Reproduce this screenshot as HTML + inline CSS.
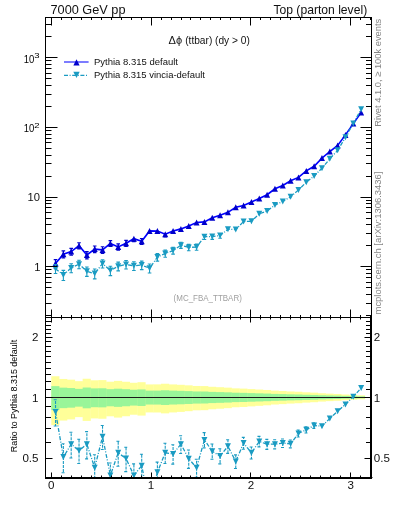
<!DOCTYPE html>
<html><head><meta charset="utf-8"><style>
html,body{margin:0;padding:0;background:#fff;width:393px;height:512px;overflow:hidden}
svg{display:block;will-change:transform}
</style></head><body>
<svg width="393" height="512" viewBox="0 0 393 512">
<rect width="393" height="512" fill="#fff"/>
<defs><clipPath id="cm"><rect x="45" y="17" width="327" height="301"/></clipPath><clipPath id="cr"><rect x="45" y="318" width="327" height="160"/></clipPath></defs>
<g clip-path="url(#cr)" fill="#ffff99"><rect x="51.30" y="376.24" width="8.14" height="48.90"/><rect x="59.14" y="378.97" width="8.14" height="41.58"/><rect x="66.97" y="379.67" width="8.14" height="39.77"/><rect x="74.81" y="381.16" width="8.14" height="35.96"/><rect x="82.65" y="378.75" width="8.14" height="42.15"/><rect x="90.48" y="380.31" width="8.14" height="38.10"/><rect x="98.32" y="380.11" width="8.14" height="38.63"/><rect x="106.16" y="381.71" width="8.14" height="34.58"/><rect x="113.99" y="380.87" width="8.14" height="36.70"/><rect x="121.83" y="381.76" width="8.14" height="34.47"/><rect x="129.67" y="382.79" width="8.14" height="31.94"/><rect x="137.50" y="382.20" width="8.14" height="33.38"/><rect x="145.34" y="384.42" width="8.14" height="28.01"/><rect x="153.18" y="384.38" width="8.14" height="28.10"/><rect x="161.01" y="383.75" width="8.14" height="29.61"/><rect x="168.85" y="384.42" width="8.14" height="28.01"/><rect x="176.69" y="384.81" width="8.14" height="27.08"/><rect x="184.52" y="385.33" width="8.14" height="25.84"/><rect x="192.36" y="385.98" width="8.14" height="24.33"/><rect x="200.20" y="386.09" width="8.14" height="24.09"/><rect x="208.03" y="386.78" width="8.14" height="22.49"/><rect x="215.87" y="387.20" width="8.14" height="21.53"/><rect x="223.71" y="387.64" width="8.14" height="20.52"/><rect x="231.54" y="388.37" width="8.14" height="18.88"/><rect x="239.38" y="388.61" width="8.14" height="18.35"/><rect x="247.22" y="389.09" width="8.14" height="17.29"/><rect x="255.05" y="389.53" width="8.14" height="16.31"/><rect x="262.89" y="389.98" width="8.14" height="15.31"/><rect x="270.73" y="390.63" width="8.14" height="13.88"/><rect x="278.56" y="390.98" width="8.14" height="13.14"/><rect x="286.40" y="391.44" width="8.14" height="12.14"/><rect x="294.24" y="391.74" width="8.14" height="11.49"/><rect x="302.07" y="392.29" width="8.14" height="10.32"/><rect x="309.91" y="392.65" width="8.14" height="9.56"/><rect x="317.75" y="393.23" width="8.14" height="8.35"/><rect x="325.58" y="393.64" width="8.14" height="7.49"/><rect x="333.42" y="393.98" width="8.14" height="6.78"/><rect x="341.26" y="394.50" width="8.14" height="5.69"/><rect x="349.09" y="394.97" width="8.14" height="4.72"/><rect x="356.93" y="395.35" width="8.14" height="3.94"/></g>
<g clip-path="url(#cr)" fill="#99f599"><rect x="51.30" y="386.13" width="8.14" height="23.98"/><rect x="59.14" y="387.65" width="8.14" height="20.50"/><rect x="66.97" y="388.04" width="8.14" height="19.63"/><rect x="74.81" y="388.86" width="8.14" height="17.79"/><rect x="82.65" y="387.53" width="8.14" height="20.77"/><rect x="90.48" y="388.39" width="8.14" height="18.83"/><rect x="98.32" y="388.28" width="8.14" height="19.08"/><rect x="106.16" y="389.16" width="8.14" height="17.12"/><rect x="113.99" y="388.70" width="8.14" height="18.15"/><rect x="121.83" y="389.18" width="8.14" height="17.07"/><rect x="129.67" y="389.74" width="8.14" height="15.84"/><rect x="137.50" y="389.42" width="8.14" height="16.54"/><rect x="145.34" y="390.62" width="8.14" height="13.91"/><rect x="153.18" y="390.60" width="8.14" height="13.96"/><rect x="161.01" y="390.26" width="8.14" height="14.70"/><rect x="168.85" y="390.62" width="8.14" height="13.91"/><rect x="176.69" y="390.83" width="8.14" height="13.46"/><rect x="184.52" y="391.11" width="8.14" height="12.85"/><rect x="192.36" y="391.46" width="8.14" height="12.11"/><rect x="200.20" y="391.51" width="8.14" height="11.99"/><rect x="208.03" y="391.88" width="8.14" height="11.20"/><rect x="215.87" y="392.10" width="8.14" height="10.73"/><rect x="223.71" y="392.34" width="8.14" height="10.22"/><rect x="231.54" y="392.72" width="8.14" height="9.41"/><rect x="239.38" y="392.84" width="8.14" height="9.15"/><rect x="247.22" y="393.10" width="8.14" height="8.62"/><rect x="255.05" y="393.33" width="8.14" height="8.14"/><rect x="262.89" y="393.56" width="8.14" height="7.64"/><rect x="270.73" y="393.90" width="8.14" height="6.93"/><rect x="278.56" y="394.08" width="8.14" height="6.56"/><rect x="286.40" y="394.32" width="8.14" height="6.06"/><rect x="294.24" y="394.48" width="8.14" height="5.74"/><rect x="302.07" y="394.76" width="8.14" height="5.16"/><rect x="309.91" y="394.94" width="8.14" height="4.78"/><rect x="317.75" y="395.24" width="8.14" height="4.17"/><rect x="325.58" y="395.45" width="8.14" height="3.74"/><rect x="333.42" y="395.62" width="8.14" height="3.39"/><rect x="341.26" y="395.89" width="8.14" height="2.84"/><rect x="349.09" y="396.13" width="8.14" height="2.36"/><rect x="356.93" y="396.32" width="8.14" height="1.97"/></g>
<line x1="45" y1="397.5" x2="371" y2="397.5" stroke="#1a1a1a" stroke-width="1.2"/>
<g clip-path="url(#cm)"><polyline points="55.52,263.60 63.36,254.20 71.19,251.60 79.03,245.70 86.87,255.00 94.70,249.10 102.54,249.90 110.38,243.40 118.21,246.90 126.05,243.20 133.89,238.70 141.72,241.30 149.56,230.90 157.40,231.10 165.23,234.20 173.07,230.90 180.91,228.90 188.74,226.10 196.58,222.50 204.42,221.90 212.25,217.80 220.09,215.20 227.93,212.30 235.76,207.30 243.60,205.60 251.44,202.00 259.27,198.50 267.11,194.70 274.95,188.80 282.78,185.50 290.62,180.70 298.46,177.40 306.29,170.90 314.13,166.30 321.97,158.10 329.80,151.50 337.64,145.50 345.48,134.90 353.31,123.60 361.15,112.60" fill="none" stroke="#0000ff" stroke-width="1.6"/><path d="M55.52,263.60V259.72M53.72,259.72H57.32M55.52,263.60V268.05M53.72,268.05H57.32M63.36,254.20V250.85M61.56,250.85H65.16M63.36,254.20V257.97M61.56,257.97H65.16M71.19,251.60V248.38M69.39,248.38H72.99M71.19,251.60V255.20M69.39,255.20H72.99M79.03,245.70V242.77M77.23,242.77H80.83M79.03,245.70V248.95M77.23,248.95H80.83M86.87,255.00V251.61M85.07,251.61H88.67M86.87,255.00V258.82M85.07,258.82H88.67M94.70,249.10V246.01M92.90,246.01H96.50M94.70,249.10V252.55M92.90,252.55H96.50M102.54,249.90V246.77M100.74,246.77H104.34M102.54,249.90V253.40M100.74,253.40H104.34M110.38,243.40V240.57M108.58,240.57H112.18M110.38,243.40V246.52M108.58,246.52H112.18M118.21,246.90V243.91M116.41,243.91H120.01M118.21,246.90V250.22M116.41,250.22H120.01M126.05,243.20V240.38M124.25,240.38H127.85M126.05,243.20V246.31M124.25,246.31H127.85M133.89,238.70V241.58M132.09,241.58H135.69M141.72,241.30V238.56M139.92,238.56H143.52M141.72,241.30V244.31M139.92,244.31H143.52M165.23,234.20V236.86M163.43,236.86H167.03" stroke="#0000cc" stroke-width="1.2" fill="none"/><path d="M52.52,266.60L58.52,266.60L55.52,260.60ZM60.36,257.20L66.36,257.20L63.36,251.20ZM68.19,254.60L74.19,254.60L71.19,248.60ZM76.03,248.70L82.03,248.70L79.03,242.70ZM83.87,258.00L89.87,258.00L86.87,252.00ZM91.70,252.10L97.70,252.10L94.70,246.10ZM99.54,252.90L105.54,252.90L102.54,246.90ZM107.38,246.40L113.38,246.40L110.38,240.40ZM115.21,249.90L121.21,249.90L118.21,243.90ZM123.05,246.20L129.05,246.20L126.05,240.20ZM130.89,241.70L136.89,241.70L133.89,235.70ZM138.72,244.30L144.72,244.30L141.72,238.30ZM146.56,233.90L152.56,233.90L149.56,227.90ZM154.40,234.10L160.40,234.10L157.40,228.10ZM162.23,237.20L168.23,237.20L165.23,231.20ZM170.07,233.90L176.07,233.90L173.07,227.90ZM177.91,231.90L183.91,231.90L180.91,225.90ZM185.74,229.10L191.74,229.10L188.74,223.10ZM193.58,225.50L199.58,225.50L196.58,219.50ZM201.42,224.90L207.42,224.90L204.42,218.90ZM209.25,220.80L215.25,220.80L212.25,214.80ZM217.09,218.20L223.09,218.20L220.09,212.20ZM224.93,215.30L230.93,215.30L227.93,209.30ZM232.76,210.30L238.76,210.30L235.76,204.30ZM240.60,208.60L246.60,208.60L243.60,202.60ZM248.44,205.00L254.44,205.00L251.44,199.00ZM256.27,201.50L262.27,201.50L259.27,195.50ZM264.11,197.70L270.11,197.70L267.11,191.70ZM271.95,191.80L277.95,191.80L274.95,185.80ZM279.78,188.50L285.78,188.50L282.78,182.50ZM287.62,183.70L293.62,183.70L290.62,177.70ZM295.46,180.40L301.46,180.40L298.46,174.40ZM303.29,173.90L309.29,173.90L306.29,167.90ZM311.13,169.30L317.13,169.30L314.13,163.30ZM318.97,161.10L324.97,161.10L321.97,155.10ZM326.80,154.50L332.80,154.50L329.80,148.50ZM334.64,148.50L340.64,148.50L337.64,142.50ZM342.48,137.90L348.48,137.90L345.48,131.90ZM350.31,126.60L356.31,126.60L353.31,120.60ZM358.15,115.60L364.15,115.60L361.15,109.60Z" fill="#0000cc"/></g>
<g clip-path="url(#cm)"><polyline points="55.52,268.67 63.36,274.98 71.19,267.90 79.03,264.22 86.87,271.30 94.70,273.60 102.54,263.59 110.38,270.54 118.21,266.18 126.05,264.50 133.89,265.84 141.72,265.07 149.56,268.20 157.40,257.12 165.23,253.48 173.07,250.57 180.91,245.20 188.74,247.43 196.58,247.00 204.42,236.70 212.25,236.56 220.09,235.60 227.93,229.33 235.76,229.57 243.60,221.51 251.44,221.28 259.27,213.86 267.11,211.00 274.95,205.10 282.78,201.41 290.62,196.86 298.46,189.94 306.29,182.19 314.13,176.10 321.97,168.14 329.80,158.87 337.64,150.33 345.48,137.37 353.31,123.39 361.15,109.37" fill="none" stroke="#1a9bc2" stroke-width="1.3" stroke-dasharray="4,1.6,1,1.6"/><path d="M55.52,268.67V264.48M53.72,264.48H57.32M55.52,268.67V273.55M53.72,273.55H57.32M63.36,274.98V270.35M61.56,270.35H65.16M63.36,274.98V280.44M61.56,280.44H65.16M71.19,267.90V263.75M69.39,263.75H72.99M71.19,267.90V272.70M69.39,272.70H72.99M79.03,264.22V260.30M77.23,260.30H80.83M79.03,264.22V268.72M77.23,268.72H80.83M86.87,271.30V266.93M85.07,266.93H88.67M86.87,271.30V276.40M85.07,276.40H88.67M94.70,273.60V269.07M92.90,269.07H96.50M94.70,273.60V278.92M92.90,278.92H96.50M102.54,263.59V259.71M100.74,259.71H104.34M102.54,263.59V268.04M100.74,268.04H104.34M110.38,270.54V266.22M108.58,266.22H112.18M110.38,270.54V275.58M108.58,275.58H112.18M118.21,266.18V262.15M116.41,262.15H120.01M118.21,266.18V270.85M116.41,270.85H120.01M126.05,264.50V260.56M124.25,260.56H127.85M126.05,264.50V269.02M124.25,269.02H127.85M133.89,265.84V261.82M132.09,261.82H135.69M133.89,265.84V270.47M132.09,270.47H135.69M141.72,265.07V261.10M139.92,261.10H143.52M141.72,265.07V269.64M139.92,269.64H143.52M149.56,268.20V264.03M147.76,264.03H151.36M149.56,268.20V273.03M147.76,273.03H151.36M157.40,257.12V253.62M155.60,253.62H159.20M157.40,257.12V261.09M155.60,261.09H159.20M165.23,253.48V250.17M163.43,250.17H167.03M165.23,253.48V257.21M163.43,257.21H167.03M173.07,250.57V247.40M171.27,247.40H174.87M173.07,250.57V254.10M171.27,254.10H174.87M180.91,245.20V242.29M179.11,242.29H182.71M180.91,245.20V248.42M179.11,248.42H182.71M188.74,247.43V244.42M186.94,244.42H190.54M188.74,247.43V250.78M186.94,250.78H190.54M196.58,247.00V244.00M194.78,244.00H198.38M196.58,247.00V250.32M194.78,250.32H198.38M204.42,236.70V239.48M202.62,239.48H206.22M212.25,236.56V239.33M210.45,239.33H214.05M220.09,235.60V238.32M218.29,238.32H221.89" stroke="#1a9bc2" stroke-width="1.1" fill="none"/><path d="M52.52,265.67L58.52,265.67L55.52,271.67ZM60.36,271.98L66.36,271.98L63.36,277.98ZM68.19,264.90L74.19,264.90L71.19,270.90ZM76.03,261.22L82.03,261.22L79.03,267.22ZM83.87,268.30L89.87,268.30L86.87,274.30ZM91.70,270.60L97.70,270.60L94.70,276.60ZM99.54,260.59L105.54,260.59L102.54,266.59ZM107.38,267.54L113.38,267.54L110.38,273.54ZM115.21,263.18L121.21,263.18L118.21,269.18ZM123.05,261.50L129.05,261.50L126.05,267.50ZM130.89,262.84L136.89,262.84L133.89,268.84ZM138.72,262.07L144.72,262.07L141.72,268.07ZM146.56,265.20L152.56,265.20L149.56,271.20ZM154.40,254.12L160.40,254.12L157.40,260.12ZM162.23,250.48L168.23,250.48L165.23,256.48ZM170.07,247.57L176.07,247.57L173.07,253.57ZM177.91,242.20L183.91,242.20L180.91,248.20ZM185.74,244.43L191.74,244.43L188.74,250.43ZM193.58,244.00L199.58,244.00L196.58,250.00ZM201.42,233.70L207.42,233.70L204.42,239.70ZM209.25,233.56L215.25,233.56L212.25,239.56ZM217.09,232.60L223.09,232.60L220.09,238.60ZM224.93,226.33L230.93,226.33L227.93,232.33ZM232.76,226.57L238.76,226.57L235.76,232.57ZM240.60,218.51L246.60,218.51L243.60,224.51ZM248.44,218.28L254.44,218.28L251.44,224.28ZM256.27,210.86L262.27,210.86L259.27,216.86ZM264.11,208.00L270.11,208.00L267.11,214.00ZM271.95,202.10L277.95,202.10L274.95,208.10ZM279.78,198.41L285.78,198.41L282.78,204.41ZM287.62,193.86L293.62,193.86L290.62,199.86ZM295.46,186.94L301.46,186.94L298.46,192.94ZM303.29,179.19L309.29,179.19L306.29,185.19ZM311.13,173.10L317.13,173.10L314.13,179.10ZM318.97,165.14L324.97,165.14L321.97,171.14ZM326.80,155.87L332.80,155.87L329.80,161.87ZM334.64,147.33L340.64,147.33L337.64,153.33ZM342.48,134.37L348.48,134.37L345.48,140.37ZM350.31,120.39L356.31,120.39L353.31,126.39ZM358.15,106.37L364.15,106.37L361.15,112.37Z" fill="#1a9bc2"/></g>
<g clip-path="url(#cr)"><polyline points="55.52,411.90 63.36,457.10 71.19,444.20 79.03,450.60 86.87,444.20 94.70,467.80 102.54,436.70 110.38,475.40 118.21,452.80 126.05,458.60 133.89,475.40 141.72,465.70 149.56,504.65 157.40,472.20 165.23,452.80 173.07,453.90 180.91,444.20 188.74,458.70 196.58,467.80 204.42,439.90 212.25,451.30 220.09,456.00 227.93,446.30 235.76,461.40 243.60,443.10 251.44,452.80 259.27,441.50 267.11,444.20 274.95,444.20 282.78,443.10 290.62,443.80 298.46,433.40 306.29,429.80 314.13,425.50 321.97,426.20 329.80,418.50 337.64,411.20 345.48,404.40 353.31,396.70 361.15,388.00" fill="none" stroke="#1a9bc2" stroke-width="1.3" stroke-dasharray="4,1.6,1,1.6"/><path d="M55.52,411.90V399.82M53.72,399.82H57.32M55.52,411.90V425.93M53.72,425.93H57.32M63.36,457.10V443.79M61.56,443.79H65.16M63.36,457.10V472.81M61.56,472.81H65.16M71.19,444.20V432.27M69.39,432.27H72.99M71.19,444.20V458.03M69.39,458.03H72.99M79.03,450.60V439.32M77.23,439.32H80.83M79.03,450.60V463.55M77.23,463.55H80.83M86.87,444.20V431.62M85.07,431.62H88.67M86.87,444.20V458.90M85.07,458.90H88.67M94.70,467.80V454.77M92.90,454.77H96.50M94.70,467.80V483.13M92.90,483.13H96.50M102.54,436.70V425.53M100.74,425.53H104.34M102.54,436.70V449.51M100.74,449.51H104.34M110.38,475.40V462.97M108.58,462.97H112.18M110.38,475.40V489.90M108.58,489.90H112.18M118.21,452.80V441.18M116.41,441.18H120.01M118.21,452.80V466.22M116.41,466.22H120.01M126.05,458.60V447.28M124.25,447.28H127.85M126.05,458.60V471.62M124.25,471.62H127.85M133.89,475.40V463.84M132.09,463.84H135.69M133.89,475.40V488.73M132.09,488.73H135.69M141.72,465.70V454.28M139.92,454.28H143.52M141.72,465.70V478.85M139.92,478.85H143.52M149.56,504.65V492.66M147.76,492.66H151.36M149.56,504.65V518.56M147.76,518.56H151.36M157.40,472.20V462.10M155.60,462.10H159.20M157.40,472.20V483.62M155.60,483.62H159.20M165.23,452.80V443.26M163.43,443.26H167.03M165.23,452.80V463.51M163.43,463.51H167.03M173.07,453.90V444.79M171.27,444.79H174.87M173.07,453.90V464.08M171.27,464.08H174.87M180.91,444.20V435.82M179.11,435.82H182.71M180.91,444.20V453.47M179.11,453.47H182.71M188.74,458.70V450.02M186.94,450.02H190.54M188.74,458.70V468.34M186.94,468.34H190.54M196.58,467.80V459.18M194.78,459.18H198.38M196.58,467.80V477.36M194.78,477.36H198.38M204.42,439.90V432.58M202.62,432.58H206.22M204.42,439.90V447.90M202.62,447.90H206.22M212.25,451.30V443.99M210.45,443.99H214.05M212.25,451.30V459.28M210.45,459.28H214.05M220.09,456.00V448.80M218.29,448.80H221.89M220.09,456.00V463.85M218.29,463.85H221.89M227.93,446.30V439.79M226.13,439.79H229.73M227.93,446.30V453.34M226.13,453.34H229.73M235.76,461.40V454.86M233.96,454.86H237.56M235.76,461.40V468.47M233.96,468.47H237.56M243.60,443.10V437.35M241.80,437.35H245.40M243.60,443.10V449.26M241.80,449.26H245.40M251.44,452.80V447.07M249.64,447.07H253.24M251.44,452.80V458.93M249.64,458.93H253.24M259.27,441.50V436.41M257.47,436.41H261.07M259.27,441.50V446.90M257.47,446.90H261.07M267.11,444.20V439.34M265.31,439.34H268.91M267.11,444.20V449.35M265.31,449.35H268.91M274.95,444.20V439.78M273.15,439.78H276.75M274.95,444.20V448.86M273.15,448.86H276.75M282.78,443.10V438.94M280.98,438.94H284.58M282.78,443.10V447.47M280.98,447.47H284.58M290.62,443.80V439.93M288.82,439.93H292.42M290.62,443.80V447.85M288.82,447.85H292.42M298.46,433.40V429.94M296.66,429.94H300.26M298.46,433.40V437.00M296.66,437.00H300.26M306.29,429.80V426.75M304.49,426.75H308.09M306.29,429.80V432.96M304.49,432.96H308.09M314.13,425.50V422.74M312.33,422.74H315.93M314.13,425.50V428.35M312.33,428.35H315.93" stroke="#1a9bc2" stroke-width="1.1" fill="none" stroke-dasharray="3,1"/><path d="M52.52,408.90L58.52,408.90L55.52,414.90ZM60.36,454.10L66.36,454.10L63.36,460.10ZM68.19,441.20L74.19,441.20L71.19,447.20ZM76.03,447.60L82.03,447.60L79.03,453.60ZM83.87,441.20L89.87,441.20L86.87,447.20ZM91.70,464.80L97.70,464.80L94.70,470.80ZM99.54,433.70L105.54,433.70L102.54,439.70ZM107.38,472.40L113.38,472.40L110.38,478.40ZM115.21,449.80L121.21,449.80L118.21,455.80ZM123.05,455.60L129.05,455.60L126.05,461.60ZM130.89,472.40L136.89,472.40L133.89,478.40ZM138.72,462.70L144.72,462.70L141.72,468.70ZM146.56,501.65L152.56,501.65L149.56,507.65ZM154.40,469.20L160.40,469.20L157.40,475.20ZM162.23,449.80L168.23,449.80L165.23,455.80ZM170.07,450.90L176.07,450.90L173.07,456.90ZM177.91,441.20L183.91,441.20L180.91,447.20ZM185.74,455.70L191.74,455.70L188.74,461.70ZM193.58,464.80L199.58,464.80L196.58,470.80ZM201.42,436.90L207.42,436.90L204.42,442.90ZM209.25,448.30L215.25,448.30L212.25,454.30ZM217.09,453.00L223.09,453.00L220.09,459.00ZM224.93,443.30L230.93,443.30L227.93,449.30ZM232.76,458.40L238.76,458.40L235.76,464.40ZM240.60,440.10L246.60,440.10L243.60,446.10ZM248.44,449.80L254.44,449.80L251.44,455.80ZM256.27,438.50L262.27,438.50L259.27,444.50ZM264.11,441.20L270.11,441.20L267.11,447.20ZM271.95,441.20L277.95,441.20L274.95,447.20ZM279.78,440.10L285.78,440.10L282.78,446.10ZM287.62,440.80L293.62,440.80L290.62,446.80ZM295.46,430.40L301.46,430.40L298.46,436.40ZM303.29,426.80L309.29,426.80L306.29,432.80ZM311.13,422.50L317.13,422.50L314.13,428.50ZM318.97,423.20L324.97,423.20L321.97,429.20ZM326.80,415.50L332.80,415.50L329.80,421.50ZM334.64,408.20L340.64,408.20L337.64,414.20ZM342.48,401.40L348.48,401.40L345.48,407.40ZM350.31,393.70L356.31,393.70L353.31,399.70ZM358.15,385.00L364.15,385.00L361.15,391.00Z" fill="#1a9bc2"/></g>
<rect x="45.5" y="17.5" width="326.0" height="300.0" fill="none" stroke="#000" stroke-width="1"/>
<path d="M45,317.5H371.5M45.5,317V478M370,477.5H372.5" stroke="#000" stroke-width="1" fill="none"/>
<path d="M45,478H372M371,317V479" stroke="#000" stroke-width="2" fill="none"/>
<path d="M51.5,17.5v8M51.5,317.5v-8M51.5,317.5v5M51.5,477.5v-5M61.5,17.5v2.5M61.5,317.5v-2.5M61.5,317.5v2M61.5,477.5v-2M71.5,17.5v2.5M71.5,317.5v-2.5M71.5,317.5v2M71.5,477.5v-2M81.5,17.5v2.5M81.5,317.5v-2.5M81.5,317.5v2M81.5,477.5v-2M91.5,17.5v2.5M91.5,317.5v-2.5M91.5,317.5v2M91.5,477.5v-2M101.5,17.5v2.5M101.5,317.5v-2.5M101.5,317.5v2M101.5,477.5v-2M111.5,17.5v2.5M111.5,317.5v-2.5M111.5,317.5v2M111.5,477.5v-2M121.5,17.5v2.5M121.5,317.5v-2.5M121.5,317.5v2M121.5,477.5v-2M131.5,17.5v2.5M131.5,317.5v-2.5M131.5,317.5v2M131.5,477.5v-2M141.5,17.5v2.5M141.5,317.5v-2.5M141.5,317.5v2M141.5,477.5v-2M151.5,17.5v8M151.5,317.5v-8M151.5,317.5v5M151.5,477.5v-5M161.5,17.5v2.5M161.5,317.5v-2.5M161.5,317.5v2M161.5,477.5v-2M171.5,17.5v2.5M171.5,317.5v-2.5M171.5,317.5v2M171.5,477.5v-2M181.5,17.5v2.5M181.5,317.5v-2.5M181.5,317.5v2M181.5,477.5v-2M190.5,17.5v2.5M190.5,317.5v-2.5M190.5,317.5v2M190.5,477.5v-2M200.5,17.5v2.5M200.5,317.5v-2.5M200.5,317.5v2M200.5,477.5v-2M210.5,17.5v2.5M210.5,317.5v-2.5M210.5,317.5v2M210.5,477.5v-2M220.5,17.5v2.5M220.5,317.5v-2.5M220.5,317.5v2M220.5,477.5v-2M230.5,17.5v2.5M230.5,317.5v-2.5M230.5,317.5v2M230.5,477.5v-2M240.5,17.5v2.5M240.5,317.5v-2.5M240.5,317.5v2M240.5,477.5v-2M250.5,17.5v8M250.5,317.5v-8M250.5,317.5v5M250.5,477.5v-5M260.5,17.5v2.5M260.5,317.5v-2.5M260.5,317.5v2M260.5,477.5v-2M270.5,17.5v2.5M270.5,317.5v-2.5M270.5,317.5v2M270.5,477.5v-2M280.5,17.5v2.5M280.5,317.5v-2.5M280.5,317.5v2M280.5,477.5v-2M290.5,17.5v2.5M290.5,317.5v-2.5M290.5,317.5v2M290.5,477.5v-2M300.5,17.5v2.5M300.5,317.5v-2.5M300.5,317.5v2M300.5,477.5v-2M310.5,17.5v2.5M310.5,317.5v-2.5M310.5,317.5v2M310.5,477.5v-2M320.5,17.5v2.5M320.5,317.5v-2.5M320.5,317.5v2M320.5,477.5v-2M330.5,17.5v2.5M330.5,317.5v-2.5M330.5,317.5v2M330.5,477.5v-2M340.5,17.5v2.5M340.5,317.5v-2.5M340.5,317.5v2M340.5,477.5v-2M350.5,17.5v8M350.5,317.5v-8M350.5,317.5v5M350.5,477.5v-5M360.5,17.5v2.5M360.5,317.5v-2.5M360.5,317.5v2M360.5,477.5v-2M370.5,17.5v2.5M370.5,317.5v-2.5M370.5,317.5v2M370.5,477.5v-2M45.5,315.5h6M371.5,315.5h-5.5M45.5,303.5h6M371.5,303.5h-5.5M45.5,294.5h6M371.5,294.5h-5.5M45.5,287.5h6M371.5,287.5h-5.5M45.5,282.5h6M371.5,282.5h-5.5M45.5,277.5h6M371.5,277.5h-5.5M45.5,273.5h6M371.5,273.5h-5.5M45.5,269.5h6M371.5,269.5h-5.5M45.5,266.5h12M371.5,266.5h-11M45.5,245.5h6M371.5,245.5h-5.5M45.5,233.5h6M371.5,233.5h-5.5M45.5,224.5h6M371.5,224.5h-5.5M45.5,218.5h6M371.5,218.5h-5.5M45.5,212.5h6M371.5,212.5h-5.5M45.5,207.5h6M371.5,207.5h-5.5M45.5,203.5h6M371.5,203.5h-5.5M45.5,200.5h6M371.5,200.5h-5.5M45.5,197.5h12M371.5,197.5h-11M45.5,176.5h6M371.5,176.5h-5.5M45.5,163.5h6M371.5,163.5h-5.5M45.5,155.5h6M371.5,155.5h-5.5M45.5,148.5h6M371.5,148.5h-5.5M45.5,142.5h6M371.5,142.5h-5.5M45.5,138.5h6M371.5,138.5h-5.5M45.5,134.5h6M371.5,134.5h-5.5M45.5,130.5h6M371.5,130.5h-5.5M45.5,127.5h12M371.5,127.5h-11M45.5,106.5h6M371.5,106.5h-5.5M45.5,94.5h6M371.5,94.5h-5.5M45.5,85.5h6M371.5,85.5h-5.5M45.5,78.5h6M371.5,78.5h-5.5M45.5,73.5h6M371.5,73.5h-5.5M45.5,68.5h6M371.5,68.5h-5.5M45.5,64.5h6M371.5,64.5h-5.5M45.5,60.5h6M371.5,60.5h-5.5M45.5,57.5h12M371.5,57.5h-11M45.5,36.5h6M371.5,36.5h-5.5M45.5,24.5h6M371.5,24.5h-5.5M45.5,477.5h5.5M371.5,477.5h-5.5M45.5,458.5h7M371.5,458.5h-7M45.5,442.5h5.5M371.5,442.5h-5.5M45.5,428.5h5.5M371.5,428.5h-5.5M45.5,417.5h5.5M371.5,417.5h-5.5M45.5,406.5h5.5M371.5,406.5h-5.5M45.5,397.5h7M371.5,397.5h-7M45.5,389.5h5.5M371.5,389.5h-5.5M45.5,381.5h5.5M371.5,381.5h-5.5M45.5,374.5h5.5M371.5,374.5h-5.5M45.5,368.5h5.5M371.5,368.5h-5.5M45.5,362.5h5.5M371.5,362.5h-5.5M45.5,356.5h5.5M371.5,356.5h-5.5M45.5,351.5h5.5M371.5,351.5h-5.5M45.5,346.5h5.5M371.5,346.5h-5.5M45.5,341.5h5.5M371.5,341.5h-5.5M45.5,337.5h7M371.5,337.5h-7M45.5,333.5h5.5M371.5,333.5h-5.5M45.5,329.5h5.5M371.5,329.5h-5.5M45.5,325.5h5.5M371.5,325.5h-5.5M45.5,321.5h5.5M371.5,321.5h-5.5" stroke="#000" stroke-width="1" fill="none"/>
<g style="font-family:'Liberation Sans',sans-serif">
<text x="50.5" y="13.8" font-size="12.4" text-anchor="start" fill="#111" textLength="75" lengthAdjust="spacingAndGlyphs">7000 GeV pp</text>
<text x="273.4" y="13.7" font-size="12.2" text-anchor="start" fill="#111" textLength="93.8" lengthAdjust="spacingAndGlyphs">Top (parton level)</text>
<text x="168.6" y="44.2" font-size="10.4" text-anchor="start" fill="#111" textLength="13.6" lengthAdjust="spacingAndGlyphs">Δϕ</text>
<text x="185.2" y="44.2" font-size="10" text-anchor="start" fill="#111" textLength="64.6" lengthAdjust="spacingAndGlyphs">(ttbar) (dy &gt; 0)</text>
<text x="94" y="65.1" font-size="9.4" text-anchor="start" fill="#111" textLength="84" lengthAdjust="spacingAndGlyphs">Pythia 8.315 default</text>
<text x="94" y="78.2" font-size="9.4" text-anchor="start" fill="#111" textLength="111" lengthAdjust="spacingAndGlyphs">Pythia 8.315 vincia-default</text>
<text x="173.6" y="301.2" font-size="8.5" text-anchor="start" fill="#a0a0a0" textLength="68.2" lengthAdjust="spacingAndGlyphs">(MC_FBA_TTBAR)</text>
<text x="40" y="201" font-size="11.2" text-anchor="end" fill="#111">10</text>
<text x="40.4" y="270.8" font-size="11.2" text-anchor="end" fill="#111">1</text>
<text x="34.4" y="63.1" font-size="11" text-anchor="end" textLength="10.6" lengthAdjust="spacingAndGlyphs">10</text><text x="34.2" y="57.6" font-size="7" textLength="5.3" lengthAdjust="spacingAndGlyphs">3</text>
<text x="34.4" y="131.9" font-size="11" text-anchor="end" textLength="10.6" lengthAdjust="spacingAndGlyphs">10</text><text x="34.2" y="127.9" font-size="7" textLength="5.3" lengthAdjust="spacingAndGlyphs">2</text>
<text x="38.5" y="341" font-size="11.6" text-anchor="end" fill="#111">2</text>
<text x="38.5" y="401.5" font-size="11.6" text-anchor="end" fill="#111">1</text>
<text x="38.5" y="462" font-size="11.6" text-anchor="end" fill="#111">0.5</text>
<text x="373.8" y="341" font-size="11.6" text-anchor="start" fill="#111">2</text>
<text x="373.8" y="401.5" font-size="11.6" text-anchor="start" fill="#111">1</text>
<text x="373.8" y="462" font-size="11.6" text-anchor="start" fill="#111">0.5</text>
<text x="51.30" y="489.2" font-size="11.6" text-anchor="middle" fill="#111">0</text>
<text x="151.08" y="489.2" font-size="11.6" text-anchor="middle" fill="#111">1</text>
<text x="250.86" y="489.2" font-size="11.6" text-anchor="middle" fill="#111">2</text>
<text x="350.64" y="489.2" font-size="11.6" text-anchor="middle" fill="#111">3</text>
<text transform="translate(16.8,396) rotate(-90)" font-size="9" text-anchor="middle" textLength="112.5" lengthAdjust="spacingAndGlyphs">Ratio to Pythia 8.315 default</text>
<text transform="translate(380.5,72.7) rotate(-90)" font-size="9.4" text-anchor="middle" fill="#858585" textLength="108" lengthAdjust="spacingAndGlyphs">Rivet 4.1.0, ≥ 100k events</text>
<text transform="translate(380.5,243) rotate(-90)" font-size="9.4" text-anchor="middle" fill="#858585" textLength="143" lengthAdjust="spacingAndGlyphs">mcplots.cern.ch [arXiv:1306.3436]</text>
</g>
<line x1="64" y1="62" x2="88.6" y2="62" stroke="#5050ff" stroke-width="1.5"/>
<path d="M73.40,65.40L79.60,65.40L76.50,59.20Z" fill="#0000cc"/>
<line x1="64" y1="75.3" x2="88" y2="75.3" stroke="#1a9bc2" stroke-width="1.3" stroke-dasharray="4,1.6,1,1.6"/>
<path d="M73.30,71.70L79.70,71.70L76.50,78.10Z" fill="#1a9bc2"/>
</svg></body></html>
